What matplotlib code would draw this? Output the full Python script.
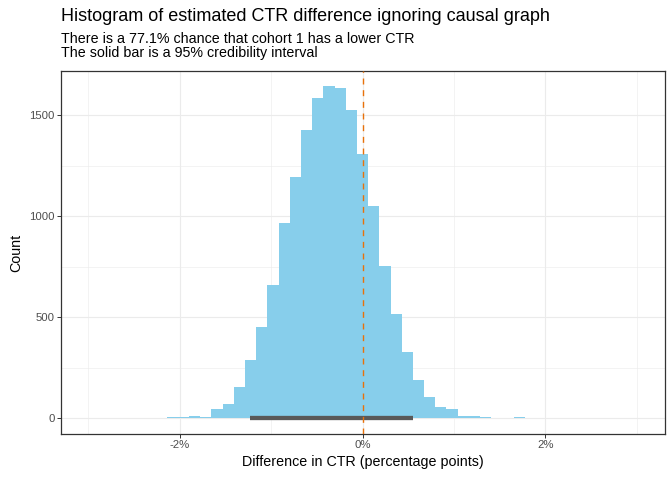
import matplotlib
matplotlib.use("Agg")
import matplotlib.pyplot as plt
import numpy as np
from matplotlib.ticker import MultipleLocator, FuncFormatter

plt.rcParams['font.family'] = ['Liberation Sans', 'DejaVu Sans']

# histogram bins (percentage points), centred on multiples of the bin width
binwidth = 0.1225
bin_index = np.arange(-17, 15)
counts = [3, 3, 10, 3, 43, 68, 153, 287, 450, 658, 965, 1193, 1426, 1584, 1644, 1634,
          1525, 1307, 1050, 752, 515, 327, 188, 104, 54, 45, 10, 10, 3, 0, 0, 3]

# 95% credibility interval
ci_low, ci_high = -1.23, 0.55

title = "Histogram of estimated CTR difference ignoring causal graph"
subtitle = ["There is a 77.1% chance that cohort 1 has a lower CTR",
            "The solid bar is a 95% credibility interval"]

fig = plt.figure(figsize=(6.72, 4.8), dpi=100)
ax = fig.add_axes([61/672, 46/480, 604/672, 363/480])

centers = bin_index * binwidth
ax.bar(centers, counts, width=binwidth, color="#87CEEB", linewidth=0, zorder=2)
ax.plot([ci_low, ci_high], [0, 0], color="#595959", lw=3.1, solid_capstyle="butt", zorder=3)
ax.axvline(0, color="#E8710A", lw=1.0, linestyle=(0, (4.3, 4.1)), zorder=4)

ax.set_xlim(-3.30, 3.31)
ax.set_ylim(-79, 1718)
ax.xaxis.set_major_locator(MultipleLocator(2))
ax.xaxis.set_minor_locator(MultipleLocator(1))
ax.yaxis.set_major_locator(MultipleLocator(500))
ax.yaxis.set_minor_locator(MultipleLocator(250))
ax.xaxis.set_major_formatter(FuncFormatter(lambda v, p: "%d%%" % round(v)))

ax.grid(which="major", color="#EBEBEB", lw=0.8, zorder=0)
ax.grid(which="minor", color="#EBEBEB", lw=0.4, zorder=0)
ax.set_axisbelow(True)
ax.tick_params(which="major", length=2.6, width=0.7, color="#333333", labelcolor="#4D4D4D",
               labelsize=8.2, pad=2.0)
ax.tick_params(which="minor", length=0)
for s in ax.spines.values():
    s.set_color("#333333")
    s.set_linewidth(0.9)

ax.set_xlabel("Difference in CTR (percentage points)", fontsize=10.3, labelpad=3)
ax.set_ylabel("Count", fontsize=10.3, labelpad=4)

fig.text(61/672, 1 - 21/480, title, fontsize=12.95, va="baseline", ha="left")
fig.text(61/672, 1 - 43/480, subtitle[0], fontsize=10.3, va="baseline", ha="left")
fig.text(61/672, 1 - 57/480, subtitle[1], fontsize=10.3, va="baseline", ha="left")

fig.savefig("out.png", dpi=100)
